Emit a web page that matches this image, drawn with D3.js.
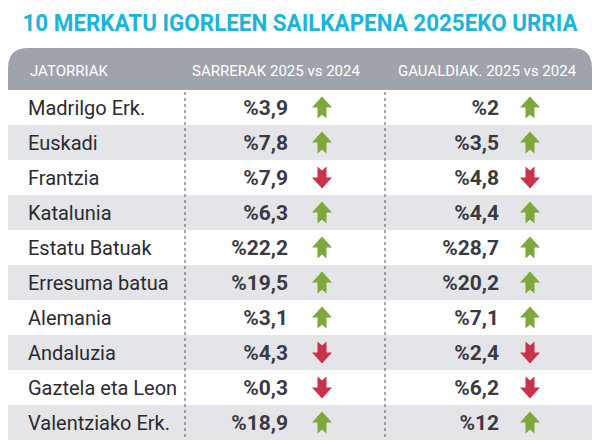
<!DOCTYPE html>
<html><head><meta charset="utf-8">
<script src="https://cdn.jsdelivr.net/npm/d3@7"></script>
<style>body{margin:0;background:#fff}text{font-family:"Liberation Sans Narrow","Roboto",sans-serif}</style>
</head><body><svg id="c" width="600" height="447"></svg>
<script>
// table data
const origins = ['Madrilgo Erk.', 'Euskadi', 'Frantzia', 'Katalunia', 'Estatu Batuak',
  'Erresuma batua', 'Alemania', 'Andaluzia', 'Gaztela eta Leon', 'Valentziako Erk.'];
const entries = ['%3,9', '%7,8', '%7,9', '%6,3', '%22,2', '%19,5', '%3,1', '%4,3', '%0,3', '%18,9'];
const entriesUp = [true, true, false, true, true, true, true, false, false, true];
const nights = ['%2', '%3,5', '%4,8', '%4,4', '%28,7', '%20,2', '%7,1', '%2,4', '%6,2', '%12'];
const nightsUp = [true, true, false, true, true, true, true, false, false, true];
const headers = ['JATORRIAK', 'SARRERAK 2025 vs 2024', 'GAUALDIAK. 2025 vs 2024'];

const svg = d3.select('#c');
const green = '#7ea83a', red = '#c8334b';

svg.append('text').attr('x', 300).attr('y', 31).attr('text-anchor', 'middle')
  .attr('fill', '#1bb5da').attr('font-size', 24).attr('font-weight', 'bold')
  .attr('textLength', 555).attr('lengthAdjust', 'spacingAndGlyphs')
  .text('10 MERKATU IGORLEEN SAILKAPENA 2025EKO URRIA');

const y = d3.scaleBand().domain(d3.range(origins.length)).range([90, 440]);

// header with rounded top
const x0 = 8, x1 = 592, ht = 48, hb = 90, r = 20;
svg.append('path').attr('fill', '#9fa4ac')
  .attr('d', `M${x0},${hb}V${ht + r}Q${x0},${ht} ${x0 + r},${ht}H${x1 - r}Q${x1},${ht} ${x1},${ht + r}V${hb}Z`);
const hx = [[30, 'start'], [276, 'middle'], [487, 'middle']];
headers.forEach((h, i) => svg.append('text').attr('x', hx[i][0]).attr('y', 76)
  .attr('text-anchor', hx[i][1]).attr('fill', '#fff').attr('font-size', 15)
  .text(h));

const rows = svg.selectAll('g.row').data(origins).join('g')
  .attr('transform', (d, i) => `translate(0,${y(i)})`);
rows.append('rect').attr('x', x0).attr('width', x1 - x0).attr('height', y.bandwidth())
  .attr('fill', (d, i) => i % 2 ? '#e3e5e8' : '#fff');
rows.append('text').attr('x', 28).attr('y', y.bandwidth() / 2 + 7)
  .attr('font-size', 20).attr('fill', '#2b2b30').text(d => d);

function arrow(g, up, cx) {
  const p = up
    ? 'M0,-11L10,0H4.5V11L0,7L-4.5,11V0H-10Z'
    : 'M0,11L10,0H4.5V-11L0,-7L-4.5,-11V0H-10Z';
  g.append('path').attr('d', p).attr('fill', up ? green : red)
    .attr('transform', `translate(${cx},${y.bandwidth() / 2})`);
}
rows.append('text').attr('x', 288).attr('y', y.bandwidth() / 2 + 7).attr('text-anchor', 'end')
  .attr('font-size', 21).attr('font-weight', 'bold').attr('fill', '#3a3b42').text((d, i) => entries[i]);
rows.append('text').attr('x', 499).attr('y', y.bandwidth() / 2 + 7).attr('text-anchor', 'end')
  .attr('font-size', 21).attr('font-weight', 'bold').attr('fill', '#3a3b42').text((d, i) => nights[i]);
rows.each(function (d, i) {
  arrow(d3.select(this), entriesUp[i], 322);
  arrow(d3.select(this), nightsUp[i], 530);
});

[185, 385].forEach(x => svg.append('line').attr('x1', x).attr('x2', x)
  .attr('y1', 92).attr('y2', 438).attr('stroke', '#555').attr('stroke-dasharray', '3,3'));
</script></body></html>
